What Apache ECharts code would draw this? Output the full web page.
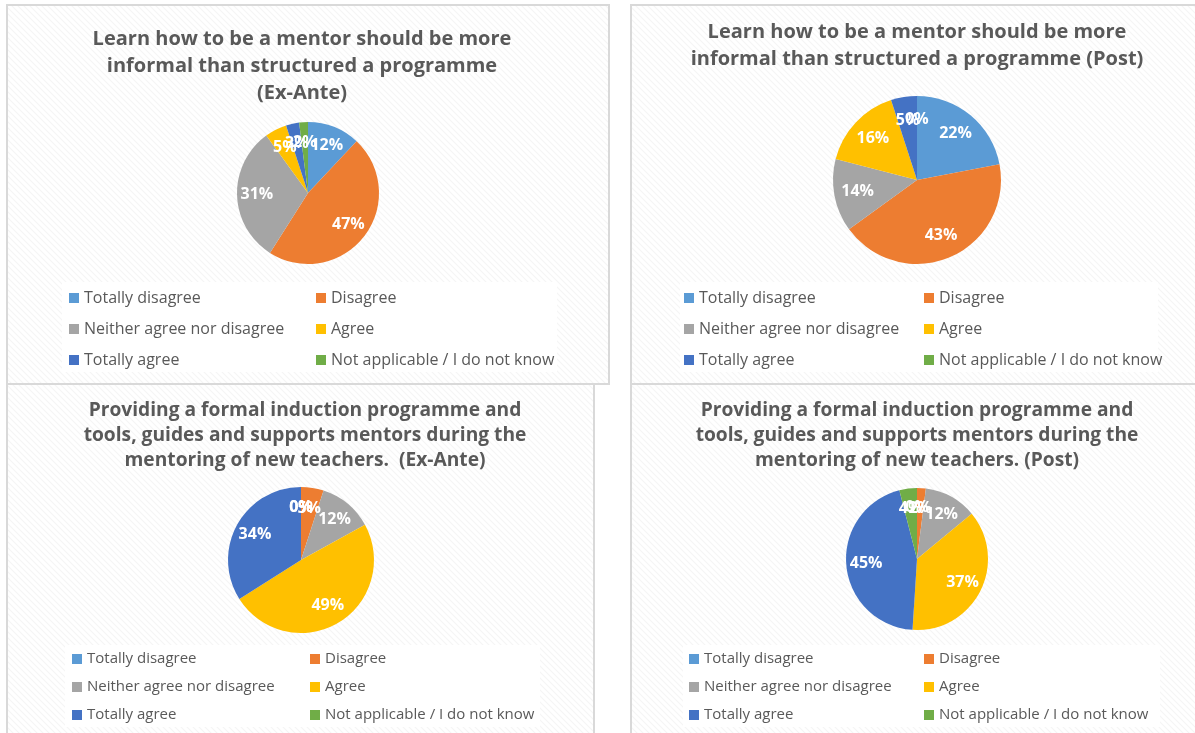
<!DOCTYPE html>
<html>
<head>
<meta charset="utf-8">
<script src="https://cdn.jsdelivr.net/npm/echarts@6/dist/echarts.min.js"></script>
<style>
html,body{margin:0;padding:0;background:#fff;}
#chart{width:1195px;height:733px;}
</style>
</head>
<body>
<div id="chart"></div>
<script>
// ---------- data ----------
const categories = ['Totally disagree', 'Disagree', 'Neither agree nor disagree', 'Agree', 'Totally agree', 'Not applicable / I do not know'];
const informalExAnte = [12, 47, 31, 5, 3, 2];
const informalPost = [22, 43, 14, 16, 5, 0];
const inductionExAnte = [0, 5, 12, 49, 34, 0];
const inductionPost = [0, 2, 12, 37, 45, 4];
const chartTitles = [
  'Learn how to be a mentor should be more\ninformal than structured a programme\n(Ex-Ante)',
  'Learn how to be a mentor should be more\ninformal than structured a programme (Post)',
  'Providing a formal induction programme and\ntools, guides and supports mentors during the\nmentoring of new teachers.  (Ex-Ante)',
  'Providing a formal induction programme and\ntools, guides and supports mentors during the\nmentoring of new teachers. (Post)'
];
const palette = ['#5B9BD5', '#ED7D31', '#A5A5A5', '#FFC000', '#4472C4', '#70AD47'];

// ---------- layout ----------
const FONT = '"Open Sans", Lato, sans-serif';
const TXT = '#595959';
const pies = [
  { values: informalExAnte, center: [308, 193], r: 71 },
  { values: informalPost, center: [917, 180], r: 84 },
  { values: inductionExAnte, center: [301, 560], r: 73 },
  { values: inductionPost, center: [917, 559], r: 71 }
];
const titleLayout = [
  { x: 302, top: 26, lh: 27, fs: 20 },
  { x: 917, top: 19, lh: 27, fs: 20 },
  { x: 305, top: 398, lh: 25, fs: 19.2 },
  { x: 917, top: 398, lh: 25, fs: 19.2 }
];
const legendLayout = [
  { cols: [69, 316], top: 290, gap: 15, fs: 16 },
  { cols: [684, 924], top: 290, gap: 15, fs: 16 },
  { cols: [72, 310], top: 651, gap: 12, fs: 15 },
  { cols: [689, 924], top: 651, gap: 12, fs: 15 }
];
const panels = [
  [7, 5, 602, 379], [631, 5, 620, 379], [7, 384, 587, 400], [631, 384, 620, 400]
];
const legendBoxes = [
  [62, 282, 495, 90], [680, 282, 478, 90], [65, 645, 475, 82], [683, 645, 477, 82]
];

// stripe pattern
const pc = document.createElement('canvas');
pc.width = 6; pc.height = 6;
const g = pc.getContext('2d');
g.fillStyle = '#ffffff'; g.fillRect(0, 0, 6, 6);
g.strokeStyle = 'rgba(0,0,0,0.045)'; g.lineWidth = 1.2;
g.beginPath(); g.moveTo(-1, -1); g.lineTo(7, 7); g.moveTo(-4, 2); g.lineTo(4, 10); g.moveTo(2, -4); g.lineTo(10, 4); g.stroke();

const graphics = [];
panels.forEach(p => graphics.push({
  type: 'rect', z: 0, silent: true,
  shape: { x: p[0], y: p[1], width: p[2], height: p[3] },
  style: { fill: { image: pc, repeat: 'repeat' }, stroke: '#d9d9d9', lineWidth: 2 }
}));
legendBoxes.forEach(b => graphics.push({
  type: 'rect', z: 1, silent: true,
  shape: { x: b[0], y: b[1], width: b[2], height: b[3] },
  style: { fill: '#ffffff' }
}));

const titles = chartTitles.map((t, i) => ({
  text: t, left: titleLayout[i].x, top: titleLayout[i].top, textAlign: 'center', padding: 0,
  textStyle: { fontFamily: FONT, fontWeight: 'bold', fontSize: titleLayout[i].fs, color: TXT, lineHeight: titleLayout[i].lh }
}));

const legends = [];
legendLayout.forEach(L => {
  [[0, 2, 4], [1, 3, 5]].forEach((idxs, c) => {
    legends.push({
      orient: 'vertical', left: L.cols[c], top: L.top, padding: 0, itemGap: L.gap,
      itemWidth: 10, itemHeight: 10, icon: 'rect', selectedMode: false,
      data: idxs.map(k => categories[k]),
      textStyle: { fontFamily: FONT, fontSize: L.fs, color: TXT, lineHeight: 16 }
    });
  });
});

const series = [];
pies.forEach(p => series.push({
  type: 'pie', center: p.center, radius: p.r, startAngle: 90, clockwise: true,
  silent: true, label: { show: false }, labelLine: { show: false },
  emphasis: { disabled: true },
  data: categories.map((c, k) => ({ name: c, value: p.values[k], itemStyle: { color: palette[k] } }))
}));
// label layer: an invisible pie at ~72% of the radius; each label is centred on its slice's mid-angle point
pies.forEach(p => series.push({
  type: 'pie', center: p.center, radius: p.r * 0.72, startAngle: 90, clockwise: true,
  silent: true, z: 3, emphasis: { disabled: true }, avoidLabelOverlap: false,
  itemStyle: { color: 'rgba(0,0,0,0)' },
  labelLine: { show: true, length: 0, length2: 0, lineStyle: { opacity: 0, width: 0 } },
  label: {
    show: true, position: 'outside', formatter: prm => prm.value + '%',
    fontFamily: FONT, fontWeight: 'bold', fontSize: 16, color: '#ffffff'
  },
  labelLayout: prm => {
    const pt = prm.labelLinePoints && prm.labelLinePoints[0];
    if (!pt) return {};
    return { x: pt[0], y: pt[1], align: 'center', verticalAlign: 'middle' };
  },
  data: categories.map((c, k) => ({ name: c, value: p.values[k] }))
}));

const chart = echarts.init(document.getElementById('chart'), null, { renderer: 'canvas' });
chart.setOption({
  animation: false,
  backgroundColor: '#ffffff',
  color: palette,
  graphic: graphics,
  title: titles,
  legend: legends,
  series: series
});
</script>
</body>
</html>
